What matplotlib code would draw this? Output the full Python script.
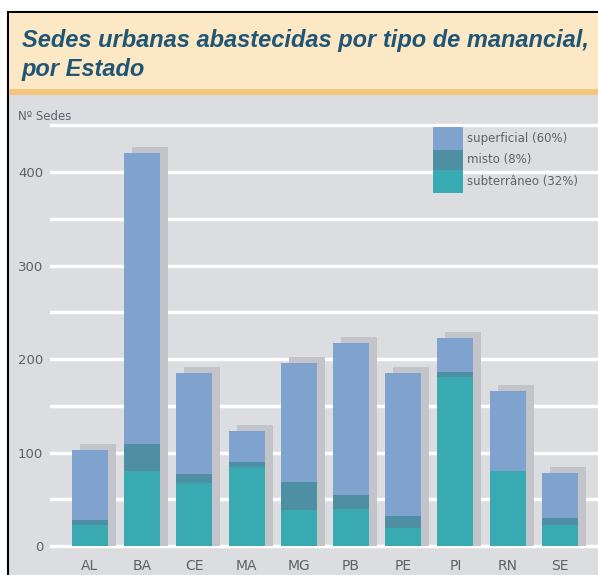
import matplotlib.pyplot as plt
from matplotlib.patches import Rectangle
from matplotlib.transforms import ScaledTranslation

estados = ['AL', 'BA', 'CE', 'MA', 'MG', 'PB', 'PE', 'PI', 'RN', 'SE']
subterraneo = [23, 80, 67, 84, 38, 40, 19, 181, 80, 22]
misto = [5, 29, 10, 6, 31, 15, 13, 5, 0, 8]
superficial = [75, 311, 108, 33, 127, 162, 153, 37, 86, 48]
legenda = ['superficial (60%)', 'misto (8%)', 'subterrâneo (32%)']
yticks = [0, 100, 200, 300, 400]

c_sup = '#7fa2cf'
c_mis = '#4f8fa3'
c_sub = '#3aaab2'
c_bg = '#dcdde1'
c_txt = '#5f6166'

W, H = 598, 575
fig = plt.figure(figsize=(W / 100, H / 100), dpi=100)
fig.patch.set_facecolor('white')

def px(x0, y0, x1, y1):
    # pixel box (from top-left) -> figure fraction rect
    return (x0 / W, 1 - y1 / H, (x1 - x0) / W, (y1 - y0) / H)

r = px(8, 12, 610, 590)
fig.patches.append(Rectangle(r[:2], r[2], r[3], transform=fig.transFigure,
                             facecolor=c_bg, edgecolor='black', lw=1.5, zorder=0))
r = px(9, 13, 610, 89)
fig.patches.append(Rectangle(r[:2], r[2], r[3], transform=fig.transFigure,
                             facecolor='#fde8c6', edgecolor='none', zorder=1))
r = px(9, 89, 610, 95)
fig.patches.append(Rectangle(r[:2], r[2], r[3], transform=fig.transFigure,
                             facecolor='#f3c57f', edgecolor='none', zorder=1))

tfont = dict(family='Liberation Sans', weight='bold', style='italic', fontsize=17,
             color='#1f5676', va='baseline', ha='left')
fig.text(22 / W, 1 - 47 / H, 'Sedes urbanas abastecidas por tipo de manancial,', **tfont)
fig.text(22 / W, 1 - 76 / H, 'por Estado', **tfont)
fig.text(18 / W, 1 - 117 / H, 'Nº Sedes', fontsize=8.5, color=c_txt, va='center')

ax = fig.add_axes(px(50, 100, 598, 555))
ax.set_zorder(3)
ax.patch.set_alpha(0)
x = list(range(len(estados)))
totais = [a + b + c + 6.4 for a, b, c in zip(subterraneo, misto, superficial)]
w = 0.69

# grey drop shadow, shifted right
sombra = ax.transData + ScaledTranslation(8 / 100, 0, fig.dpi_scale_trans)
ax.bar(x, totais, width=w, color='#c2c4ca', transform=sombra, zorder=2)
ax.bar(x, subterraneo, width=w, color=c_sub, zorder=3)
base = subterraneo
ax.bar(x, misto, width=w, bottom=base, color=c_mis, zorder=3)
base = [a + b for a, b in zip(subterraneo, misto)]
ax.bar(x, superficial, width=w, bottom=base, color=c_sup, zorder=3)

for g in range(0, 451, 50):
    ax.axhline(g, color='white', lw=2.5, zorder=1)

ax.set_xlim(-0.766, 9.732)
ax.set_ylim(-9.6, 477)
ax.set_xticks(x)
ax.set_xticklabels(estados, fontsize=10, color=c_txt)
ax.set_yticks(yticks)
ax.set_yticklabels([str(v) for v in yticks], fontsize=9.5, color=c_txt)
ax.tick_params(length=0, pad=3)
ax.tick_params(axis='y', pad=5)
for s in ax.spines.values():
    s.set_visible(False)

# legend box
cores = [c_sup, c_mis, c_sub]
ys = [(127, 150), (150, 170), (170, 193)]
for cor, (y0, y1), txt in zip(cores, ys, legenda):
    r = px(433, y0, 463, y1)
    fig.patches.append(Rectangle(r[:2], r[2], r[3], transform=fig.transFigure,
                                 facecolor=cor, edgecolor='none', zorder=5))
    fig.text(467 / W, 1 - ((y0 + y1) / 2) / H, txt, fontsize=8.5, color=c_txt,
             va='center', ha='left', zorder=6)

fig.savefig('out.png', dpi=100)
